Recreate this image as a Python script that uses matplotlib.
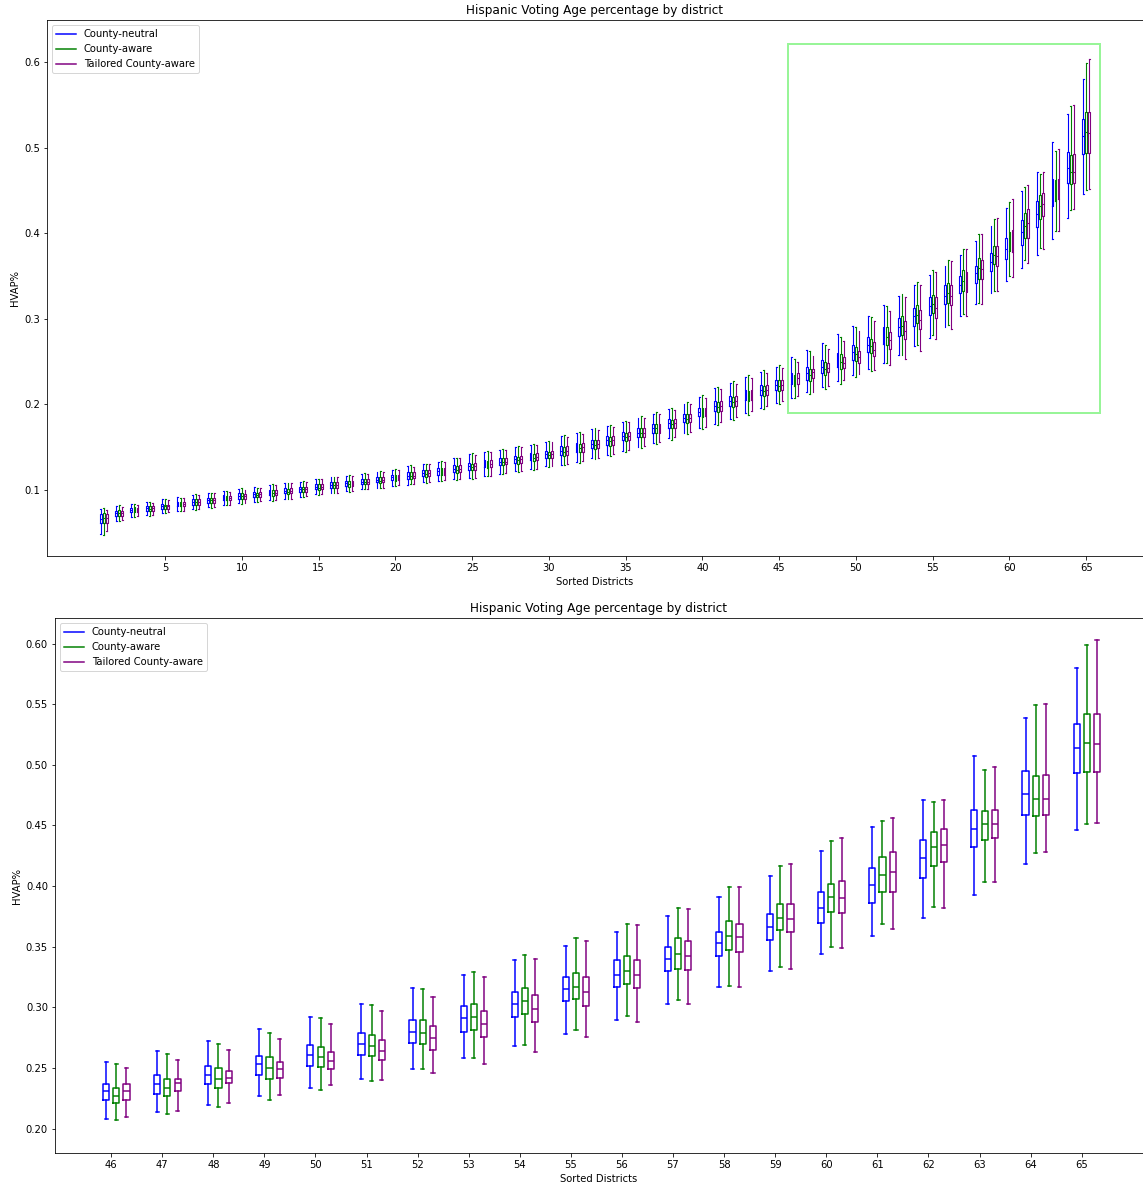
import matplotlib
matplotlib.use("Agg")
import matplotlib.pyplot as plt
from matplotlib.lines import Line2D
from matplotlib.patches import Rectangle

# districts sorted by HVAP, each entry is (whislo, q1, med, q3, whishi)
districts = list(range(1, 66))

neutral = [
    (.049, .061, .066, .072, .078), (.064, .070, .073, .076, .081), (.069, .074, .077, .079, .084),
    (.071, .076, .079, .081, .086), (.073, .078, .081, .084, .089), (.076, .081, .084, .086, .092),
    (.078, .083, .086, .089, .094), (.080, .085, .088, .091, .096), (.083, .088, .091, .094, .099),
    (.085, .090, .093, .096, .101), (.086, .092, .095, .098, .104), (.088, .094, .097, .100, .106),
    (.090, .096, .099, .102, .108), (.092, .098, .101, .104, .110), (.095, .101, .104, .107, .113),
    (.097, .103, .106, .109, .115), (.099, .105, .108, .111, .117), (.101, .107, .110, .113, .119),
    (.103, .109, .112, .115, .121), (.105, .112, .115, .118, .124), (.106, .113, .117, .121, .128),
    (.109, .116, .120, .124, .131), (.111, .118, .122, .126, .133), (.113, .121, .125, .129, .137),
    (.114, .124, .128, .132, .142), (.117, .127, .131, .135, .145), (.119, .129, .133, .137, .147),
    (.122, .132, .136, .140, .150), (.125, .135, .139, .143, .153), (.128, .138, .142, .146, .156),
    (.129, .141, .146, .151, .163), (.133, .145, .150, .155, .167), (.137, .149, .154, .159, .171),
    (.141, .153, .158, .163, .175), (.146, .158, .163, .168, .180), (.150, .162, .167, .172, .184),
    (.155, .167, .172, .177, .189), (.161, .173, .178, .183, .195), (.167, .179, .184, .189, .201),
    (.173, .186, .191, .196, .209), (.177, .192, .198, .204, .219), (.183, .198, .204, .210, .225),
    (.190, .205, .211, .217, .232), (.196, .211, .217, .223, .238), (.202, .217, .223, .229, .244),
    (.208, .224, .231, .237, .255), (.214, .229, .237, .244, .264), (.220, .237, .244, .252, .272),
    (.227, .244, .253, .260, .282), (.234, .252, .261, .269, .292), (.241, .261, .270, .279, .303),
    (.249, .271, .280, .290, .316), (.258, .280, .291, .301, .327), (.268, .292, .303, .313, .339),
    (.278, .305, .315, .325, .351), (.290, .317, .327, .339, .362), (.303, .330, .340, .350, .375),
    (.317, .342, .353, .362, .391), (.330, .356, .366, .377, .408), (.344, .370, .382, .395, .429),
    (.359, .386, .401, .415, .449), (.374, .407, .423, .438, .471), (.393, .432, .447, .463, .507),
    (.418, .459, .476, .495, .539), (.446, .493, .514, .534, .580),
]

aware = [
    (.048, .062, .067, .073, .079), (.064, .070, .073, .077, .082), (.069, .074, .077, .080, .084),
    (.070, .076, .078, .081, .086), (.073, .078, .081, .083, .089), (.076, .081, .083, .086, .091),
    (.077, .083, .086, .089, .095), (.079, .085, .088, .091, .097), (.083, .088, .090, .093, .099),
    (.084, .090, .093, .096, .102), (.086, .092, .094, .097, .103), (.087, .093, .097, .100, .107),
    (.089, .095, .098, .101, .108), (.092, .098, .101, .104, .111), (.094, .100, .103, .107, .113),
    (.097, .103, .106, .109, .115), (.098, .104, .107, .111, .118), (.101, .107, .110, .113, .120),
    (.102, .108, .111, .115, .122), (.105, .111, .114, .118, .125), (.107, .113, .117, .121, .129),
    (.108, .115, .119, .123, .131), (.111, .118, .122, .126, .134), (.112, .120, .124, .128, .138),
    (.113, .123, .127, .131, .143), (.116, .126, .130, .134, .146), (.119, .129, .133, .137, .148),
    (.121, .131, .135, .139, .151), (.124, .134, .138, .142, .154), (.127, .137, .141, .145, .157),
    (.129, .140, .145, .150, .164), (.132, .144, .149, .154, .168), (.136, .148, .153, .158, .172),
    (.140, .152, .157, .162, .176), (.145, .157, .162, .167, .181), (.149, .162, .167, .172, .186),
    (.154, .167, .172, .177, .191), (.159, .172, .177, .182, .196), (.165, .178, .183, .189, .203),
    (.171, .185, .190, .196, .211), (.176, .191, .197, .203, .220), (.182, .197, .203, .209, .227),
    (.188, .204, .210, .216, .234), (.195, .210, .216, .222, .240), (.201, .216, .222, .228, .246),
    (.207, .221, .227, .234, .253), (.212, .227, .234, .241, .262), (.218, .234, .241, .250, .270),
    (.224, .241, .250, .259, .279), (.232, .251, .259, .267, .291), (.239, .260, .268, .277, .302),
    (.249, .270, .279, .290, .315), (.258, .281, .292, .303, .329), (.269, .295, .305, .316, .343),
    (.281, .307, .317, .328, .357), (.293, .319, .330, .342, .369), (.306, .332, .344, .357, .382),
    (.318, .347, .359, .371, .399), (.333, .364, .374, .385, .417), (.350, .379, .391, .402, .437),
    (.369, .395, .409, .424, .454), (.383, .417, .432, .445, .469), (.403, .438, .451, .462, .496),
    (.427, .458, .472, .491, .549), (.451, .494, .518, .542, .599),
]

tailored = [
    (.052, .062, .067, .072, .077), (.065, .070, .073, .076, .080), (.070, .074, .077, .079, .083),
    (.071, .076, .079, .081, .085), (.074, .078, .081, .083, .088), (.076, .081, .084, .086, .091),
    (.078, .083, .086, .089, .094), (.080, .085, .088, .091, .096), (.083, .088, .091, .093, .098),
    (.085, .090, .093, .095, .100), (.087, .092, .095, .098, .103), (.088, .094, .097, .100, .106),
    (.090, .096, .099, .102, .108), (.093, .098, .101, .104, .110), (.095, .101, .104, .107, .113),
    (.097, .103, .106, .109, .115), (.099, .105, .108, .111, .117), (.101, .107, .110, .113, .119),
    (.103, .109, .112, .115, .121), (.106, .112, .115, .118, .124), (.107, .114, .117, .121, .127),
    (.110, .116, .120, .124, .130), (.112, .118, .122, .126, .133), (.113, .121, .125, .129, .137),
    (.114, .124, .128, .132, .141), (.117, .127, .131, .135, .145), (.120, .130, .133, .137, .147),
    (.122, .132, .136, .140, .150), (.125, .135, .139, .143, .153), (.128, .138, .142, .146, .156),
    (.131, .141, .146, .151, .162), (.134, .145, .150, .155, .166), (.138, .149, .154, .159, .170),
    (.142, .153, .158, .163, .174), (.147, .158, .163, .168, .179), (.151, .162, .167, .172, .184),
    (.156, .167, .172, .177, .189), (.162, .173, .178, .183, .194), (.168, .179, .184, .189, .200),
    (.174, .186, .191, .196, .208), (.179, .192, .198, .204, .218), (.185, .198, .204, .210, .224),
    (.192, .205, .211, .217, .231), (.198, .211, .217, .223, .237), (.204, .217, .223, .229, .243),
    (.210, .224, .231, .237, .250), (.215, .231, .238, .241, .257), (.221, .238, .242, .248, .265),
    (.228, .242, .249, .255, .274), (.236, .249, .256, .263, .286), (.240, .257, .264, .273, .297),
    (.246, .265, .275, .285, .309), (.253, .276, .286, .297, .325), (.263, .288, .299, .310, .340),
    (.276, .301, .313, .325, .355), (.288, .316, .327, .339, .368), (.303, .331, .342, .355, .381),
    (.317, .346, .358, .369, .399), (.332, .362, .373, .385, .418), (.349, .378, .390, .404, .440),
    (.365, .395, .412, .428, .456), (.382, .420, .434, .447, .471), (.403, .440, .451, .463, .498),
    (.428, .459, .472, .492, .550), (.452, .494, .517, .542, .603),
]

plans = ["County-neutral", "County-aware", "Tailored County-aware"]
colors = ["blue", "green", "purple"]
zoom_start = 46


def to_stats(rows):
    return [dict(whislo=r[0], q1=r[1], med=r[2], q3=r[3], whishi=r[4], fliers=[]) for r in rows]


def draw(ax, dists, offsets, width, lw):
    for data, color, off in zip([neutral, aware, tailored], colors, offsets):
        rows = [data[d - 1] for d in dists]
        props = dict(color=color, linewidth=lw)
        ax.bxp(to_stats(rows), positions=[d + off for d in dists], widths=width,
               showfliers=False, manage_ticks=False,
               boxprops=props, whiskerprops=props, capprops=props, medianprops=props)
    handles = [Line2D([], [], color=c, linewidth=1.5) for c in colors]
    ax.legend(handles, plans, loc="upper left")
    ax.set_title("Hispanic Voting Age percentage by district")
    ax.set_xlabel("Sorted Districts")
    ax.set_ylabel("HVAP%")


fig = plt.figure(figsize=(1143 / 72, 1186 / 72), dpi=72)
ax1 = fig.add_axes([0.0411, 0.5312, 0.9589, 0.4519])
ax2 = fig.add_axes([0.0481, 0.0278, 0.9519, 0.4511])

# full view
draw(ax1, districts, [-0.2, 0.0, 0.2], 0.12, 1.1)
ax1.set_xticks(range(5, 66, 5))
ax1.set_xlim(-2.7, 68.7)
ax1.set_ylim(0.023, 0.649)
ax1.add_patch(Rectangle((45.55, 0.19), 20.35, 0.431, fill=False,
                        edgecolor="#98f598", linewidth=2))

# zoom on the top districts
top = districts[zoom_start - 1:]
draw(ax2, top, [-0.1, 0.1, 0.3], 0.12, 1.5)
ax2.set_xticks(top)
ax2.set_xlim(44.9, 66.2)
ax2.set_ylim(0.180, 0.621)

fig.savefig("out.png", dpi=72)
